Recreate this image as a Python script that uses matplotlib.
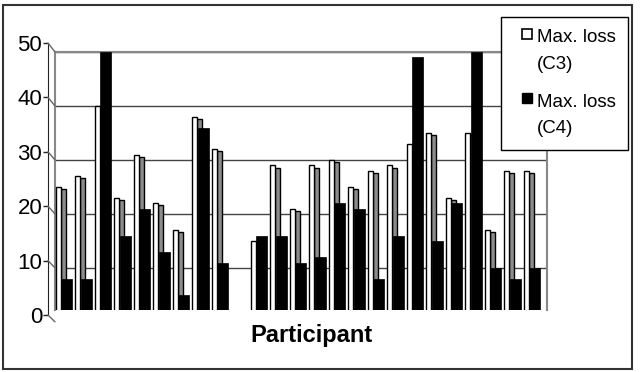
import matplotlib
matplotlib.use('Agg')
import matplotlib.pyplot as plt
from matplotlib.patches import Rectangle, ConnectionPatch, Patch
from matplotlib.legend_handler import HandlerPatch

plt.rcParams['font.family'] = ['Liberation Sans', 'DejaVu Sans']

# max loss per participant (participant 10 has no data)
participants = list(range(1, 26))
loss_c3 = [25, 27, 40, 23, 31, 22, 17, 38, 32, 0, 15, 29, 21, 29, 30,
           25, 28, 29, 33, 35, 23, 35, 17, 28, 28]
loss_c4 = [8, 8, 50, 16, 21, 13, 5, 36, 11, 0, 16, 16, 11, 12, 22,
           21, 8, 16, 49, 15, 22, 50, 10, 8, 10]
yticks = [0, 10, 20, 30, 40, 50]

W, H = 642, 372
fig = plt.figure(figsize=(W / 100, H / 100), dpi=100)

def box(l, t, r, b):
    return [l / W, 1 - b / H, (r - l) / W, (b - t) / H]

# outer frame
fig.patches.append(Rectangle((3 / W, 1 - 369 / H), 629 / W, 364 / H,
                             transform=fig.transFigure, fill=False,
                             edgecolor='#333333', lw=1.5))

# back wall with the bars
ax = fig.add_axes(box(55, 52, 547, 310))
ax.set_ylim(2.2, 50)
ax.set_xlim(-0.05, 25.18)
ax.set_yticks(yticks[1:])
ax.set_yticklabels([])
ax.set_xticks([])
ax.tick_params(left=False)
ax.grid(axis='y', color='#444444', lw=1)
ax.set_axisbelow(True)
for s in ['left', 'right', 'top']:
    ax.spines[s].set_color('#888888')
    ax.spines[s].set_linewidth(1.5)
ax.spines['bottom'].set_visible(False)

x = [i for i in range(len(participants))]
ax.bar([i + 0.256 for i in x], [v - 0.4 for v in loss_c3], width=0.256,
       align='edge', color='#8c8c8c', edgecolor='black', lw=1, zorder=2)
ax.bar([i + 0.27 for i in x], loss_c4, width=0.56, align='edge',
       color='black', edgecolor='black', lw=0.5, zorder=3)
ax.bar(x, loss_c3, width=0.256, align='edge', color='white',
       edgecolor='black', lw=1, zorder=4)

# front value axis
ax2 = fig.add_axes(box(48, 43, 58, 315))
ax2.set_ylim(0, 50)
ax2.set_xlim(0, 1)
ax2.patch.set_visible(False)
for s in ['right', 'top', 'bottom']:
    ax2.spines[s].set_visible(False)
ax2.spines['left'].set_color('#222222')
ax2.set_xticks([])
ax2.set_yticks(yticks)
ax2.tick_params(axis='y', length=3.6, width=1, pad=0.5, labelsize=16,
                color='#222222')

for v in yticks:
    con = ConnectionPatch(xyA=(0, v), coordsA=ax2.get_yaxis_transform(),
                          xyB=(0, v), coordsB=ax.get_yaxis_transform(),
                          color='#666666', lw=1)
    fig.add_artist(con)

fig.text(311 / W, 1 - 342 / H, 'Participant', ha='center', va='baseline',
         fontsize=17, fontweight='bold')


# legend key square sits beside the first text line, right of the key box
def top_square(legend, orig_handle, xdescent, ydescent, width, height, fontsize):
    s = 10 * 72 / 100
    return Rectangle((-xdescent + width - s, -ydescent + height - s + 4.5), s, s)


handles = [Patch(facecolor='white', edgecolor='black', lw=1.2),
           Patch(facecolor='black', edgecolor='black')]
leg = fig.legend(handles, ['Max. loss\n(C3)', 'Max. loss\n(C4)'],
                 loc='upper left', bbox_to_anchor=(501 / W, 1 - 17 / H),
                 borderaxespad=0, fontsize=13.5, frameon=True,
                 fancybox=False, edgecolor='black', framealpha=1,
                 handlelength=1.0, handleheight=2.4, handletextpad=0.25,
                 borderpad=0.65, labelspacing=1.1,
                 handler_map={Patch: HandlerPatch(patch_func=top_square)})
leg.get_frame().set_linewidth(1)
for t in leg.get_texts():
    t.set_linespacing(1.75)

fig.savefig('out.png', dpi=100)
